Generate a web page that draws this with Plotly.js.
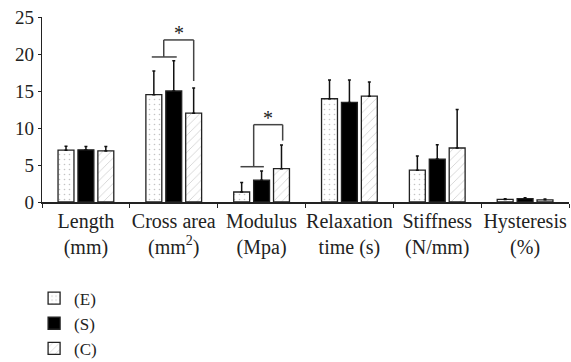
<!DOCTYPE html>
<html><head><meta charset="utf-8">
<script src="https://cdn.plot.ly/plotly-3.0.1.min.js"></script>
<style>html,body{margin:0;padding:0;background:#fff}#c{width:571px;height:362px}</style>
</head><body><div id="c"></div>
<script>
const categories = ["Length<br>(mm)", "Cross area<br>(mm<sup>2</sup>)", "Modulus<br>(Mpa)", "Relaxation<br>time (s)", "Stiffness<br>(N/mm)", "Hysteresis<br>(%)"];
const seriesNames = ["(E)", "(S)", "(C)"];
const meanE = [7.0, 14.5, 1.35, 13.95, 4.3, 0.35];
const meanS = [7.05, 15.0, 2.95, 13.45, 5.8, 0.45];
const meanC = [6.9, 12.0, 4.5, 14.3, 7.3, 0.3];
const sdE = [0.55, 3.2, 1.3, 2.55, 1.9, 0.1];
const sdS = [0.45, 4.1, 1.25, 3.05, 1.95, 0.12];
const sdC = [0.6, 3.4, 3.2, 1.9, 5.2, 0.1];
const yTicks = [0, 5, 10, 15, 20, 25];
// significance brackets: category index, base line span, left/right leg offsets, levels
const sigCat = [1, 2];
const sigBaseFrom = [-0.25, -0.24];
const sigBaseTo = [0.034, 0.026];
const sigBaseY = [19.6, 4.77];
const sigLeftX = [-0.114, -0.09];
const sigRightX = [0.227, 0.24];
const sigTopY = [21.9, 10.45];
const sigRightBottomY = [16.35, 8.3];
const sigLabel = ["*", "*"];

const FONT = "Liberation Serif, Times New Roman, serif";
const zeros = categories.map(() => 0);
const lineStyle = {color: "#222", width: 1.3};
const errStyle = (arr) => ({type: "data", symmetric: false, array: arr, arrayminus: zeros,
  color: "#111", thickness: 1.5, width: 1.5});

const traces = [
  {type: "bar", name: seriesNames[0], x: categories, y: meanE, error_y: errStyle(sdE),
   marker: {color: "white", line: lineStyle,
     pattern: {shape: ".", fgcolor: "#c4c4c4", bgcolor: "white", size: 5, solidity: 0.08}}},
  {type: "bar", name: seriesNames[1], x: categories, y: meanS, error_y: errStyle(sdS),
   marker: {color: "black", line: lineStyle}},
  {type: "bar", name: seriesNames[2], x: categories, y: meanC, error_y: errStyle(sdC),
   marker: {color: "white", line: lineStyle,
     pattern: {shape: "/", fgcolor: "#d4d4d4", bgcolor: "white", size: 6, solidity: 0.15}}}
];

const shapes = [];
const annotations = [];
const sLine = {color: "#444", width: 1.5};
sigCat.forEach((c, i) => {
  shapes.push({type: "line", xref: "x", yref: "y", x0: c + sigBaseFrom[i], x1: c + sigBaseTo[i], y0: sigBaseY[i], y1: sigBaseY[i], line: sLine});
  shapes.push({type: "line", xref: "x", yref: "y", x0: c + sigLeftX[i], x1: c + sigLeftX[i], y0: sigBaseY[i], y1: sigTopY[i], line: sLine});
  shapes.push({type: "line", xref: "x", yref: "y", x0: c + sigLeftX[i], x1: c + sigRightX[i], y0: sigTopY[i], y1: sigTopY[i], line: sLine});
  shapes.push({type: "line", xref: "x", yref: "y", x0: c + sigRightX[i], x1: c + sigRightX[i], y0: sigTopY[i], y1: sigRightBottomY[i], line: sLine});
  annotations.push({xref: "x", yref: "y", x: c + (sigLeftX[i] + sigRightX[i]) / 2, y: sigTopY[i],
    text: sigLabel[i], showarrow: false, yanchor: "bottom", yshift: -6,
    font: {family: FONT, size: 20, color: "#222"}});
});

const layout = {
  width: 571, height: 362,
  margin: {l: 42, r: 2, t: 17, b: 160, autoexpand: false},
  paper_bgcolor: "white", plot_bgcolor: "white",
  font: {family: FONT, size: 19, color: "#222"},
  barmode: "group", bargap: 0.32, bargroupgap: 0.2,
  showlegend: true,
  legend: {orientation: "v", x: -0.015, xanchor: "left", y: -0.425, yanchor: "top",
    xref: "paper", yref: "paper", font: {family: FONT, size: 17, color: "#222"},
    tracegroupgap: 0, itemwidth: 30, bgcolor: "rgba(0,0,0,0)"},
  xaxis: {type: "category", showline: true, linecolor: "#222", linewidth: 1.5,
    ticks: "outside", tickson: "boundaries", ticklen: 4, tickcolor: "#222", tickwidth: 1,
    showgrid: false, zeroline: false, automargin: false,
    tickfont: {family: FONT, size: 20, color: "#222"}, tickangle: 0},
  yaxis: {range: [0, 25], tickvals: yTicks, ticktext: yTicks.map(String), showline: true, linecolor: "#222", linewidth: 1.2,
    ticks: "outside", ticklen: 3, tickcolor: "#222", showgrid: false, zeroline: false, automargin: false,
    tickfont: {family: FONT, size: 19, color: "#222"}},
  shapes: shapes, annotations: annotations
};

Plotly.newPlot("c", traces, layout, {displayModeBar: false, staticPlot: true});
</script></body></html>
